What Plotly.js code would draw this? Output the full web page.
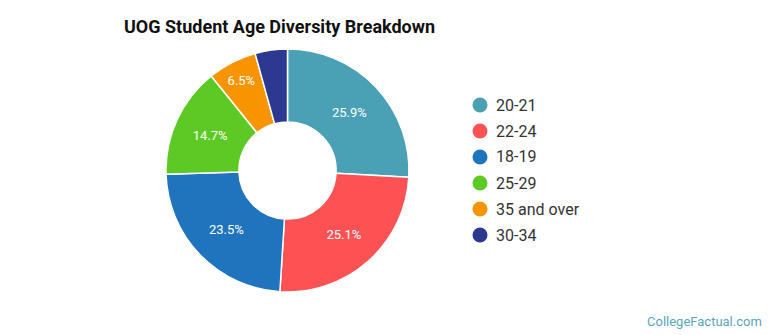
<!DOCTYPE html>
<html>
<head>
<meta charset="utf-8">
<script src="https://cdn.plot.ly/plotly-3.0.1.min.js"></script>
<style>html,body{margin:0;padding:0;background:#fff;}#chart{width:770px;height:335px;}</style>
</head>
<body>
<div id="chart"></div>
<script>
const categories = ["20-21", "22-24", "18-19", "25-29", "35 and over", "30-34"];
const shares = [25.9, 25.1, 23.5, 14.7, 6.5, 4.3];
const colors = ["#4aa0b5", "#fd5254", "#1f74bd", "#5dc925", "#f79400", "#2b3990"];
const showLabel = [true, true, true, true, true, false];

const W = 770, H = 335;
const cx = 287.5, cy = 170.5, R = 121.5;

const pie = {
  type: "pie",
  labels: categories,
  values: shares,
  sort: false,
  direction: "clockwise",
  rotation: 0,
  hole: 0.4,
  marker: {colors: colors, line: {color: "#ffffff", width: 1.5}},
  texttemplate: "%{value:.1f}%",
  textposition: showLabel.map(s => s ? "inside" : "none"),
  insidetextorientation: "horizontal",
  insidetextfont: {family: "Roboto, sans-serif", size: 13, color: "#ffffff"},
  showlegend: false,
  hoverinfo: "none",
  domain: {
    x: [(cx - R) / W, (cx + R) / W],
    y: [(H - cy - R) / H, (H - cy + R) / H]
  }
};

const shapes = [];
const annotations = [];
const legX = 480, legY0 = 105, legStep = 26, dotR = 7.5;
categories.forEach((c, i) => {
  const y = legY0 + i * legStep;
  shapes.push({
    type: "circle", xref: "paper", yref: "paper",
    x0: (legX - dotR) / W, x1: (legX + dotR) / W,
    y0: (H - y - dotR) / H, y1: (H - y + dotR) / H,
    fillcolor: colors[i], line: {width: 0}
  });
  annotations.push({
    xref: "paper", yref: "paper", x: (legX + 14) / W, y: (H - y) / H,
    xanchor: "left", yanchor: "middle", showarrow: false, text: c,
    font: {family: "Roboto, sans-serif", size: 16, color: "#333333"}
  });
});
annotations.push({
  xref: "paper", yref: "paper", x: 764 / W, y: (H - 321.5) / H,
  xanchor: "right", yanchor: "middle", showarrow: false,
  text: "CollegeFactual.com",
  font: {family: "Roboto, sans-serif", size: 13, color: "#5aa6b8"}
});

const layout = {
  width: W, height: H,
  margin: {l: 0, r: 0, t: 0, b: 0},
  paper_bgcolor: "#ffffff",
  title: {
    text: "<b>UOG Student Age Diversity Breakdown</b>",
    x: 124 / W, xanchor: "left", xref: "paper",
    y: (H - 27) / H, yanchor: "middle", yref: "paper",
    font: {family: "Roboto, sans-serif", size: 18, color: "#111111"}
  },
  shapes: shapes,
  annotations: annotations,
  showlegend: false
};

Plotly.newPlot("chart", [pie], layout, {displayModeBar: false, staticPlot: true});
</script>
</body>
</html>
